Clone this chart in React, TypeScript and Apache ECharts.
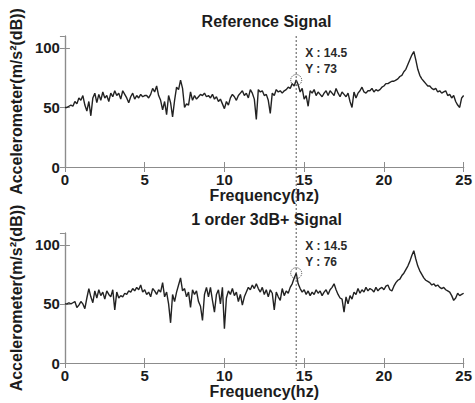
import React, { useEffect, useRef } from "react";
import * as echarts from "echarts";

// Spectrum sampled every 0.125 Hz from 0 to 25 Hz
const FREQ_STEP = 0.125;

const referenceSignal = [
  50, 50, 51, 52, 51, 55, 53, 58, 56,
  60, 52, 47, 55, 43, 58, 62, 54,
  61, 56, 63, 58, 60, 55, 62, 59,
  64, 60, 62, 57, 64, 61, 58, 54,
  59, 62, 57, 60, 58, 61, 59, 60,
  60, 58, 61, 66, 63, 68, 60, 56,
  48, 55, 44, 60, 54, 42, 56, 67,
  65, 73, 66, 50, 53, 52, 63, 56,
  60, 57, 59, 61, 60, 62, 59, 60,
  58, 61, 57, 59, 55, 57, 53, 49,
  55, 52, 58, 61, 59, 56, 60, 62,
  64, 60, 62, 58, 65, 62, 57, 40,
  65, 63, 64, 60, 61, 56, 45, 62,
  60, 65, 63, 64, 62, 64, 65, 67,
  66, 70, 68, 73, 69, 63, 66, 57,
  60, 51, 64, 62, 65, 60, 63, 61,
  59, 62, 64, 60, 64, 62, 60, 66,
  62, 59, 63, 61, 59, 62, 55, 50,
  63, 58, 62, 64, 67, 63, 62, 64,
  64, 66, 63, 65, 64, 65, 67, 68,
  70, 70, 71, 72, 72, 73, 74, 76,
  77, 80, 82, 86, 90, 94, 97, 90,
  82, 77, 74, 72, 70, 68, 68, 66,
  65, 66, 63, 64, 62, 63, 64, 60,
  61, 58, 60, 55, 52, 50, 58, 60,
];

const boostedSignal = [
  50, 50, 51, 50, 51, 52, 47, 49, 52,
  50, 46, 55, 63, 56, 51, 61, 55,
  62, 57, 60, 54, 61, 58, 56, 62,
  45, 60, 55, 57, 56, 59, 58, 61,
  60, 63, 61, 64, 62, 66, 60, 62,
  58, 60, 56, 63, 61, 58, 62, 60,
  68, 56, 60, 50, 34, 58, 52, 60,
  66, 72, 61, 63, 56, 60, 47, 62,
  58, 61, 52, 48, 36, 58, 64, 56,
  64, 53, 43, 58, 62, 50, 64, 29,
  55, 61, 58, 63, 57, 60, 52, 58,
  49, 56, 60, 64, 62, 66, 63, 67,
  63, 60, 64, 58, 62, 56, 62, 59,
  45, 60, 56, 53, 63, 57, 61, 59,
  64, 67, 72, 76, 67, 63, 60, 62,
  58, 61, 57, 60, 58, 62, 59, 61,
  57, 60, 62, 58, 62, 64, 67, 62,
  58, 55, 54, 43, 56, 50, 57, 54,
  60, 58, 63, 59, 62, 60, 64, 61,
  63, 62, 60, 64, 61, 63, 64, 62,
  65, 66, 62, 61, 65, 68, 70, 71,
  74, 76, 79, 82, 86, 91, 95, 88,
  82, 78, 75, 72, 70, 69, 68, 66,
  67, 65, 66, 64, 63, 64, 62, 61,
  60, 57, 53, 55, 59, 57, 58, 59,
];

const panelTitles = ["Reference Signal", "1 order 3dB+ Signal"];
const panelSignals = [referenceSignal, boostedSignal];

const X_MIN = 0;
const X_MAX = 25;
const X_INTERVAL = 5;
const Y_MIN = 0;
const Y_MAX = 110;
const Y_INTERVAL = 50;

// Data cursor frequency
const cursorFreq = 14.5;

const FONT = "'Liberation Sans', Arial, sans-serif";
const TEXT_COLOR = "#1c1c1c";
const FRAME_COLOR = "#8c8c8c";

const GRIDS = [
  { left: 57, top: 36, width: 409, height: 131 },
  { left: 57, top: 233, width: 409, height: 130 },
];

export default function App() {
  const ref = useRef<HTMLDivElement>(null);

  useEffect(() => {
    document.body.style.margin = "0";
    if (!ref.current) return;
    const chart = echarts.init(ref.current, null, { renderer: "svg" });

    const frameLine = { show: true, lineStyle: { color: FRAME_COLOR, width: 1.2 } };
    const innerTick = { show: true, inside: true, length: 5, lineStyle: { color: FRAME_COLOR, width: 1 } };

    const xAxes: any[] = [];
    const yAxes: any[] = [];
    const series: any[] = [];

    GRIDS.forEach((_, gi) => {
      xAxes.push({
        type: "value",
        gridIndex: gi,
        position: "bottom",
        min: X_MIN,
        max: X_MAX,
        interval: X_INTERVAL,
        name: "Frequency(hz)",
        nameLocation: "middle",
        nameGap: 19,
        nameTextStyle: { fontFamily: FONT, fontWeight: "bold", fontSize: 16, color: TEXT_COLOR },
        axisLine: frameLine,
        axisTick: innerTick,
        axisLabel: { fontFamily: FONT, fontWeight: "bold", fontSize: 15, color: TEXT_COLOR, margin: 5 },
        splitLine: { show: false },
      });
      xAxes.push({
        type: "value",
        gridIndex: gi,
        position: "top",
        min: X_MIN,
        max: X_MAX,
        interval: X_INTERVAL,
        axisLine: frameLine,
        axisTick: innerTick,
        axisLabel: { show: false },
        splitLine: { show: false },
      });
      yAxes.push({
        type: "value",
        gridIndex: gi,
        position: "left",
        min: Y_MIN,
        max: Y_MAX,
        interval: Y_INTERVAL,
        name: "Accelerometer(m/s²(dB))",
        nameLocation: "middle",
        nameGap: 34,
        nameTextStyle: { fontFamily: FONT, fontWeight: "bold", fontSize: 16, color: TEXT_COLOR },
        axisLine: frameLine,
        axisTick: innerTick,
        axisLabel: {
          fontFamily: FONT,
          fontWeight: "bold",
          fontSize: 15,
          color: TEXT_COLOR,
          margin: 5,
          showMaxLabel: false,
          formatter: (v: number) => (v % Y_INTERVAL === 0 ? String(v) : ""),
        },
        splitLine: { show: false },
      });
      yAxes.push({
        type: "value",
        gridIndex: gi,
        position: "right",
        min: Y_MIN,
        max: Y_MAX,
        interval: Y_INTERVAL,
        axisLine: frameLine,
        axisTick: innerTick,
        axisLabel: { show: false },
        splitLine: { show: false },
      });

      const values = panelSignals[gi];
      const cursorValue = values[Math.round(cursorFreq / FREQ_STEP)];
      series.push({
        type: "line",
        xAxisIndex: gi * 2,
        yAxisIndex: gi * 2,
        data: values.map((v, i) => [i * FREQ_STEP, v]),
        showSymbol: false,
        lineStyle: { color: "#222222", width: 1.4 },
        z: 3,
        markPoint: {
          symbol: "circle",
          symbolSize: 11,
          silent: true,
          itemStyle: {
            color: "rgba(0,0,0,0)",
            borderColor: "#444",
            borderWidth: 1,
            borderType: "dotted",
          },
          label: {
            show: true,
            position: [15, -29],
            align: "left",
            verticalAlign: "top",
            fontFamily: FONT,
            fontWeight: "bold",
            fontSize: 12,
            lineHeight: 16,
            color: "#2a2a2a",
            formatter: () => `X : ${cursorFreq}\nY : ${cursorValue}`,
          },
          data: [{ coord: [cursorFreq, cursorValue] }],
        },
      });
    });

    chart.setOption({
      animation: false,
      backgroundColor: "#ffffff",
      title: panelTitles.map((t, i) => ({
        text: t,
        left: GRIDS[i].left + GRIDS[i].width / 2,
        textAlign: "center",
        top: i === 0 ? 8 : 206,
        textStyle: { fontFamily: FONT, fontWeight: "bold", fontSize: 16, color: TEXT_COLOR },
      })),
      grid: GRIDS.map((g) => ({ ...g, containLabel: false })),
      xAxis: xAxes,
      yAxis: yAxes,
      series,
    });

    // Dotted cursor line running through both panels
    const px = chart.convertToPixel({ xAxisIndex: 0 }, cursorFreq) as number;
    const topY = GRIDS[0].top;
    const bottomY = GRIDS[1].top + GRIDS[1].height + 6;
    chart.setOption({
      graphic: [
        {
          type: "line",
          z: 10,
          silent: true,
          shape: { x1: px, y1: topY, x2: px, y2: bottomY },
          style: { stroke: "#555", lineWidth: 1, lineDash: [2, 2] },
        },
      ],
    });

    return () => chart.dispose();
  }, []);

  return <div ref={ref} style={{ width: 475, height: 403 }} />;
}
